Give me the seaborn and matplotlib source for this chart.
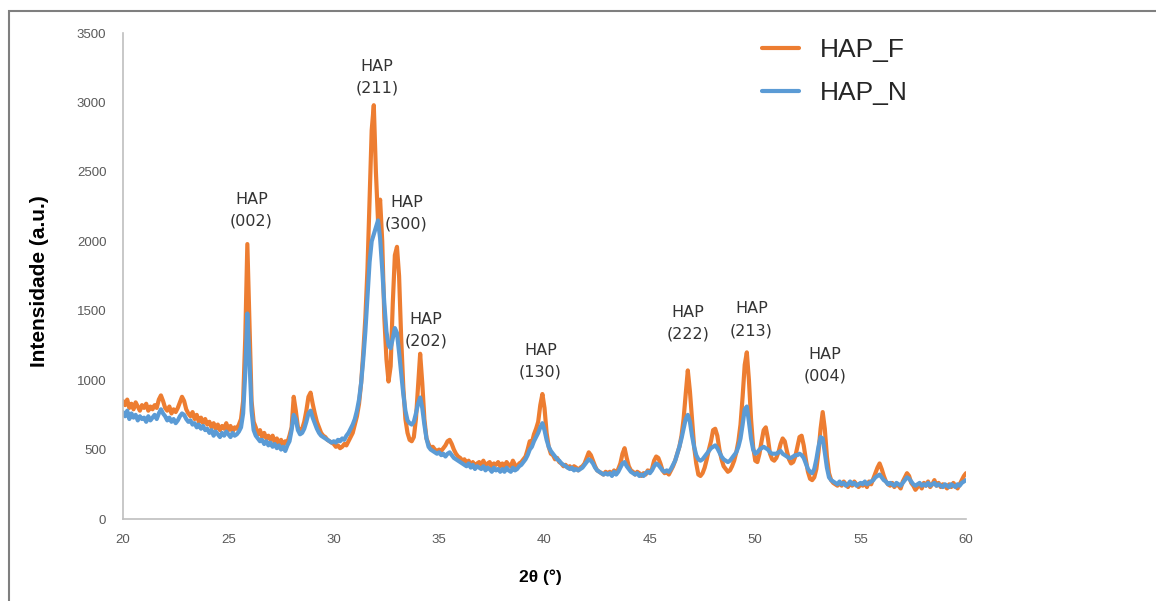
import numpy as np
import pandas as pd
import matplotlib
matplotlib.use("Agg")
import matplotlib.pyplot as plt
from matplotlib import font_manager
from matplotlib.patches import Rectangle
import seaborn as sns

# 2-theta scan, 20.0 .. 60.0 deg in 0.1 deg steps
two_theta = np.round(np.arange(200, 601) / 10.0, 1)

# Intensity, one row per degree (x.0 .. x.9)
hap_f = [
    850, 820, 860, 800, 830, 790, 840, 810, 780, 820,      # 20
    800, 830, 780, 810, 790, 820, 800, 860, 890, 850,      # 21
    800, 780, 810, 760, 790, 770, 800, 840, 880, 850,      # 22
    790, 760, 740, 770, 720, 750, 700, 730, 690, 720,      # 23
    680, 700, 660, 690, 650, 680, 640, 670, 650, 690,      # 24
    640, 670, 630, 660, 650, 680, 720, 850, 1300, 1980,    # 25
    1400, 850, 700, 660, 610, 640, 590, 620, 580, 600,     # 26
    570, 600, 550, 580, 540, 570, 530, 560, 550, 600,      # 27
    660, 880, 780, 660, 630, 650, 700, 780, 880, 910,      # 28
    830, 760, 700, 660, 620, 600, 590, 570, 560, 550,      # 29
    540, 520, 530, 510, 520, 540, 530, 560, 590, 620,      # 30
    680, 740, 830, 980, 1200, 1450, 1800, 2300, 2800, 2980,  # 31
    2500, 2150, 2300, 2000, 1450, 1150, 990, 1100, 1550, 1900,  # 32
    1960, 1750, 1300, 950, 720, 620, 570, 560, 590, 720,   # 33
    950, 1190, 980, 720, 580, 540, 510, 520, 500, 490,     # 34
    500, 490, 510, 530, 560, 570, 540, 500, 470, 450,      # 35
    440, 420, 430, 400, 420, 390, 410, 380, 400, 410,      # 36
    390, 420, 380, 400, 410, 370, 400, 390, 410, 380,      # 37
    400, 370, 410, 390, 380, 420, 390, 370, 400, 410,      # 38
    430, 450, 500, 560, 550, 610, 650, 700, 820, 900,      # 39
    800, 620, 520, 470, 460, 430, 440, 410, 400, 380,      # 40
    390, 370, 380, 360, 380, 370, 350, 370, 380, 400,      # 41
    440, 480, 460, 420, 380, 350, 340, 330, 320, 340,      # 42
    330, 340, 320, 350, 330, 360, 400, 470, 510, 440,      # 43
    380, 350, 340, 320, 340, 330, 310, 330, 320, 350,      # 44
    340, 360, 420, 450, 440, 400, 350, 330, 340, 320,      # 45
    350, 380, 420, 470, 520, 600, 720, 900, 1070, 920,     # 46
    720, 520, 400, 320, 310, 330, 370, 430, 500, 560,      # 47
    640, 650, 600, 500, 430, 380, 360, 340, 350, 380,      # 48
    420, 480, 560, 680, 880, 1110, 1200, 1000, 720, 520,   # 49
    420, 410, 470, 560, 640, 660, 580, 470, 430, 420,      # 50
    440, 480, 540, 580, 560, 490, 430, 400, 410, 450,      # 51
    520, 590, 600, 530, 430, 340, 290, 280, 300, 360,      # 52
    480, 650, 770, 650, 450, 330, 280, 260, 250, 240,      # 53
    260, 240, 270, 250, 230, 260, 240, 270, 250, 230,      # 54
    250, 240, 260, 230, 270, 250, 290, 330, 370, 400,      # 55
    360, 310, 270, 250, 240, 260, 230, 250, 240, 220,      # 56
    270, 300, 330, 310, 260, 240, 210, 230, 250, 220,      # 57
    260, 240, 270, 230, 250, 280, 240, 260, 230, 250,      # 58
    240, 220, 250, 230, 260, 240, 220, 250, 280, 310,      # 59
    330,                                                   # 60
]

hap_n = [
    770, 740, 780, 720, 760, 730, 750, 710, 740, 720,      # 20
    730, 700, 740, 710, 730, 750, 720, 760, 790, 760,      # 21
    740, 710, 730, 700, 720, 690, 710, 740, 760, 750,      # 22
    720, 700, 710, 680, 690, 660, 680, 650, 670, 640,      # 23
    650, 620, 640, 600, 630, 610, 590, 620, 600, 630,      # 24
    610, 590, 620, 600, 610, 630, 660, 760, 1050, 1480,    # 25
    1150, 780, 640, 600, 580, 560, 570, 540, 560, 530,     # 26
    550, 520, 540, 510, 530, 500, 520, 490, 530, 560,      # 27
    640, 750, 720, 640, 610, 620, 650, 700, 760, 780,      # 28
    730, 690, 650, 620, 600, 590, 580, 570, 560, 550,      # 29
    560, 550, 570, 560, 580, 570, 600, 620, 650, 680,      # 30
    720, 780, 860, 980, 1150, 1350, 1600, 1850, 2000, 2050,  # 31
    2100, 2150, 2020, 1800, 1550, 1350, 1250, 1230, 1300, 1375,  # 32
    1340, 1200, 1050, 900, 780, 710, 690, 680, 700, 760,   # 33
    830, 875, 800, 680, 580, 520, 500, 490, 480, 470,      # 34
    480, 460, 470, 450, 470, 480, 460, 440, 430, 420,      # 35
    410, 400, 390, 380, 400, 370, 390, 360, 380, 370,      # 36
    360, 380, 350, 370, 360, 340, 370, 350, 360, 340,      # 37
    360, 340, 370, 350, 340, 370, 350, 360, 380, 390,      # 38
    410, 430, 460, 500, 520, 560, 590, 620, 660, 690,      # 39
    640, 570, 520, 490, 470, 450, 430, 420, 400, 390,      # 40
    380, 370, 360, 370, 350, 360, 350, 360, 370, 390,      # 41
    410, 430, 420, 400, 370, 350, 340, 330, 320, 330,      # 42
    320, 330, 310, 340, 320, 340, 370, 400, 410, 380,      # 43
    360, 340, 330, 320, 330, 310, 320, 310, 330, 340,      # 44
    330, 350, 380, 400, 390, 370, 350, 340, 350, 340,      # 45
    360, 390, 420, 470, 520, 580, 650, 720, 750, 700,      # 46
    600, 520, 460, 430, 420, 430, 450, 470, 490, 510,      # 47
    520, 530, 510, 480, 450, 430, 420, 410, 420, 440,      # 48
    460, 480, 520, 580, 680, 790, 810, 700, 580, 500,      # 49
    470, 480, 500, 510, 520, 510, 500, 480, 470, 470,      # 50
    470, 480, 490, 470, 460, 450, 440, 440, 450, 460,      # 51
    460, 470, 460, 440, 400, 360, 340, 330, 360, 430,      # 52
    520, 590, 580, 480, 370, 300, 280, 270, 260, 250,      # 53
    270, 250, 260, 240, 250, 270, 250, 260, 240, 250,      # 54
    260, 250, 270, 250, 260, 270, 280, 300, 310, 320,      # 55
    300, 280, 270, 250, 260, 250, 240, 260, 250, 240,      # 56
    260, 280, 300, 290, 270, 250, 240, 250, 260, 240,      # 57
    250, 240, 260, 240, 250, 260, 240, 250, 240, 230,      # 58
    250, 240, 230, 250, 240, 230, 250, 240, 260, 270,      # 59
    280,                                                   # 60
]

series_names = ["HAP_F", "HAP_N"]
series_colors = ["#ED7D31", "#5B9BD5"]

# Miller indices of the indexed reflections
reflections = ["(002)", "(211)", "(300)", "(202)", "(130)", "(222)", "(213)", "(004)"]
# where each reflection label sits (2theta, intensity)
label_xy = [(26.10, 2225), (32.05, 3180), (33.45, 2205), (34.38, 1360),
            (39.81, 1135), (46.79, 1410), (49.82, 1435), (53.31, 1110)]

x_ticks = [20, 25, 30, 35, 40, 45, 50, 55, 60]
y_ticks = [0, 500, 1000, 1500, 2000, 2500, 3000, 3500]

df = pd.concat([
    pd.DataFrame({"2theta": two_theta, "Intensidade": hap_f, "Amostra": series_names[0]}),
    pd.DataFrame({"2theta": two_theta, "Intensidade": hap_n, "Amostra": series_names[1]}),
], ignore_index=True)

sns.set_theme(style="white")
names = {f.name for f in font_manager.fontManager.ttflist}
label_family = "Liberation Sans Narrow" if "Liberation Sans Narrow" in names else "Liberation Sans"
plt.rcParams["font.family"] = ["Liberation Sans", "DejaVu Sans"]

W, H = 1156, 601
fig = plt.figure(figsize=(W / 100, H / 100), dpi=100)
ax = fig.add_axes([123 / W, 1 - 519 / H, (966 - 123) / W, (519 - 33) / H])

sns.lineplot(data=df, x="2theta", y="Intensidade", hue="Amostra",
             hue_order=series_names, palette=series_colors,
             linewidth=3.0, errorbar=None, legend=False, ax=ax)

ax.set_xlim(20, 60)
ax.set_ylim(0, 3500)
ax.set_xticks(x_ticks)
ax.set_yticks(y_ticks)
ax.tick_params(axis="both", length=0, labelsize=9.5, labelcolor="#595959")
ax.tick_params(axis="x", pad=11)
ax.tick_params(axis="y", pad=12)
for side in ("top", "right"):
    ax.spines[side].set_visible(False)
for side in ("left", "bottom"):
    ax.spines[side].set_color("#BFBFBF")
    ax.spines[side].set_linewidth(1.2)
ax.grid(False)

ax.set_xlabel("2θ (°)", fontsize=12.5, fontweight="bold", color="#000000",
              family=[label_family, "DejaVu Sans"])
ax.xaxis.set_label_coords(0.495, -0.103)
ax.set_ylabel("Intensidade (a.u.)", fontsize=15, fontweight="bold", color="#000000",
              family=[label_family, "DejaVu Sans"])
ax.yaxis.set_label_coords(-0.088, 0.49)

for hkl, (lx, ly) in zip(reflections, label_xy):
    ax.text(lx, ly, "HAP\n" + hkl, ha="center", va="center", fontsize=11.5,
            color="#333333", linespacing=1.55, family=["DejaVu Sans"])

handles = ax.get_lines()[:2]
leg = ax.legend(handles, series_names, loc="upper left", frameon=False,
                bbox_to_anchor=(762 / W, 1 - 38 / H), bbox_transform=fig.transFigure,
                fontsize=19, handlelength=1.4, handletextpad=0.8, labelspacing=0.72,
                borderpad=0, borderaxespad=0)
for t in leg.get_texts():
    t.set_color("#262626")

# outer chart border
fig.add_artist(Rectangle((8.5 / W, -0.2), 1.2, 1.2 - 11 / H, transform=fig.transFigure,
                         fill=False, edgecolor="#7F7F7F", linewidth=1.5, clip_on=False))

fig.savefig("out.png", dpi=100)
